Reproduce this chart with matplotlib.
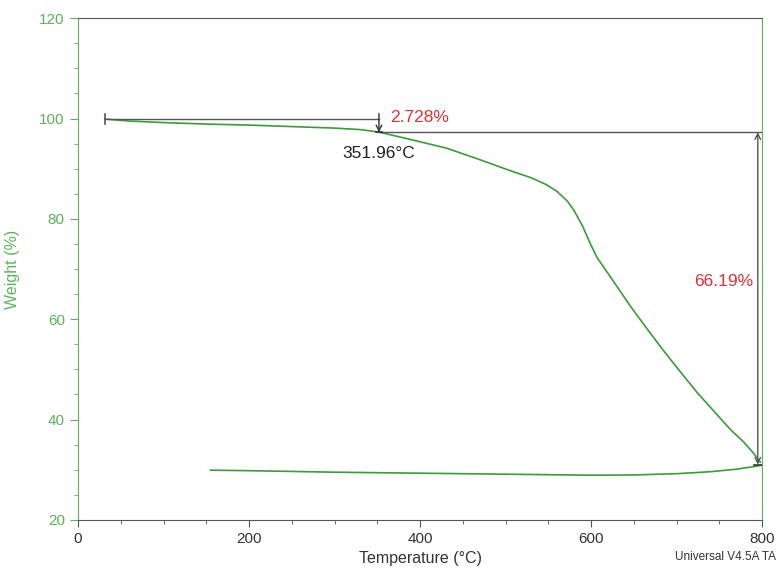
import numpy as np
import matplotlib.pyplot as plt

plt.rcParams['font.family'] = ['Liberation Sans', 'DejaVu Sans']

# heating branch
heat_t = [32, 60, 100, 150, 200, 250, 300, 330, 352, 392, 431, 470, 509, 530, 548, 560,
          572, 580, 590, 599, 607, 626, 646, 665, 684, 704, 724, 744, 763, 778, 790, 798]
heat_w = [99.9, 99.5, 99.2, 98.9, 98.7, 98.4, 98.1, 97.8, 97.3, 95.7, 94.1, 91.8, 89.4, 88.2, 86.8, 85.5,
          83.6, 81.7, 78.6, 75.1, 72.3, 67.6, 62.6, 58.2, 53.9, 49.6, 45.4, 41.6, 38.0, 35.6, 33.3, 31.5]
# cooling branch
cool_t = [155, 200, 300, 400, 500, 550, 600, 650, 700, 740, 770, 790, 800]
cool_w = [29.9, 29.8, 29.5, 29.3, 29.1, 29.0, 28.9, 28.95, 29.2, 29.6, 30.1, 30.6, 30.9]

onset_t = 351.96
step1 = 2.728
step2 = 66.19
w_start = 100.0
w_onset = w_start - step1
w_end = 31.0

green = '#3c9a3c'
axis_green = '#5ab45a'
gray = '#555555'

fig = plt.figure(figsize=(7.8, 5.7), dpi=100)
ax = fig.add_axes([0.1, 0.088, 0.877, 0.88])

ax.plot(heat_t, heat_w, color=green, lw=1.2)
ax.plot(cool_t, cool_w, color=green, lw=1.2)

# step annotations
ax.plot([32, onset_t], [w_start, w_start], color=gray, lw=1.0)
ax.plot([32, 32], [w_start - 1, w_start + 1], color=gray, lw=1.2)
ax.annotate('', xy=(onset_t, w_onset), xytext=(onset_t, w_start + 1),
            arrowprops=dict(arrowstyle='->', color='#333333', lw=1.0, shrinkA=0, shrinkB=0))
ax.plot([onset_t, 800], [w_onset, w_onset], color=gray, lw=1.0)
ax.plot([onset_t - 4, onset_t + 4], [w_onset, w_onset], color='#333333', lw=1.2)
ax.annotate('', xy=(795, w_end), xytext=(795, w_onset),
            arrowprops=dict(arrowstyle='<->', color=gray, lw=1.0, shrinkA=0, shrinkB=0))
ax.plot([790, 800], [w_end, w_end], color='#333333', lw=1.2)

ax.text(365, 100.2, f'{step1:.3f}%', color='#e03030', fontsize=12.5, va='center')
ax.text(onset_t, 94.6, f'{onset_t:.2f}°C', color='#222222', fontsize=12.5, ha='center', va='top')
ax.text(790, 67.6, f'{step2:.2f}%', color='#e03030', fontsize=12.5, ha='right', va='center')

ax.set_xlim(0, 800)
ax.set_ylim(20, 120)
ax.set_xticks([0, 200, 400, 600, 800])
ax.set_xticks(np.arange(0, 801, 50), minor=True)
ax.set_yticks([20, 40, 60, 80, 100, 120])
ax.set_yticks(np.arange(20, 121, 5), minor=True)

ax.spines['left'].set_color(axis_green)
ax.spines['right'].set_color(axis_green)
ax.spines['top'].set_color(gray)
ax.spines['bottom'].set_color(gray)
ax.tick_params(axis='y', which='both', colors=axis_green, labelsize=11)
ax.tick_params(axis='y', which='major', length=6)
ax.tick_params(axis='y', which='minor', length=3)
ax.tick_params(axis='x', which='both', colors=gray, labelsize=11)
ax.tick_params(axis='x', which='major', length=5)
ax.tick_params(axis='x', which='minor', length=3)
ax.tick_params(axis='y', labelcolor=axis_green)
ax.tick_params(axis='x', labelcolor='#333333')

ax.set_xlabel('Temperature (°C)', fontsize=11.5, color='#333333', labelpad=4)
ax.set_ylabel('Weight (%)', fontsize=11.5, color=axis_green, labelpad=14)
fig.text(0.995, 0.018, 'Universal V4.5A TA', fontsize=8.5, color='#333333', ha='right')

fig.savefig('out.png', dpi=100)
